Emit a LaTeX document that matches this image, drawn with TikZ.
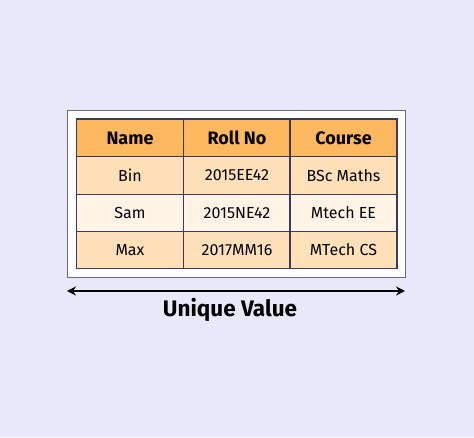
\documentclass[tikz,border=0pt]{standalone}
\usepackage{fontspec}
\setmainfont{Fira Sans}
\usetikzlibrary{arrows.meta}
\definecolor{bg}{HTML}{E9E8FB}
\definecolor{hdr}{HTML}{FEB960}
\definecolor{rowa}{HTML}{FFE0B8}
\definecolor{rowb}{HTML}{FFF4E6}
\definecolor{grid}{HTML}{3A3A5C}
\definecolor{frame}{HTML}{6A6A7E}
\tikzset{
  x=1pt,y=-1pt,
  cell/.style={draw=grid,line width=1.3pt,inner sep=0pt,minimum width=107pt,minimum height=37.5pt,font=\fontsize{16}{19}\selectfont},
  hcell/.style={cell,fill=hdr,minimum height=38pt,font=\fontsize{18}{21}\selectfont\bfseries},
}
\begin{document}
\begin{tikzpicture}
\fill[bg] (0,0) rectangle (474,437);
\useasboundingbox (0,0) rectangle (474,437);
\node[draw=frame,line width=1pt,fill=white,minimum width=338pt,minimum height=167pt,inner sep=0pt] (outer) at (236,193.5) {};
% header
\node[hcell] (h1) at (130,138) {Name};
\node[hcell] (h2) at (237,138) {Roll No};
\node[hcell] (h3) at (343.5,138) {Course};
% row 1
\node[cell,fill=rowa] (a1) at (130,175.5) {Bin};
\node[cell,fill=rowa] (a2) at (237,175.5) {2015EE42};
\node[cell,fill=rowa] (a3) at (343.5,175.5) {BSc Maths};
% row 2
\node[cell,fill=rowb] (b1) at (130,213) {Sam};
\node[cell,fill=rowb] (b2) at (237,213) {2015NE42};
\node[cell,fill=rowb] (b3) at (343.5,213) {Mtech EE};
% row 3
\node[cell,fill=rowa] (c1) at (130,250) {Max};
\node[cell,fill=rowa] (c2) at (237,250) {2017MM16};
\node[cell,fill=rowa] (c3) at (343.5,250) {MTech CS};
% arrow
\coordinate (al) at (67,291);
\coordinate (ar) at (405,291);
\draw[line width=1.5pt,{Stealth[length=9pt,width=9pt]}-{Stealth[length=9pt,width=9pt]}] (al) -- (ar);
\node[font=\fontsize{22.5}{27}\selectfont\bfseries] (lbl) at (230,310) {Unique Value};
\end{tikzpicture}
\end{document}
